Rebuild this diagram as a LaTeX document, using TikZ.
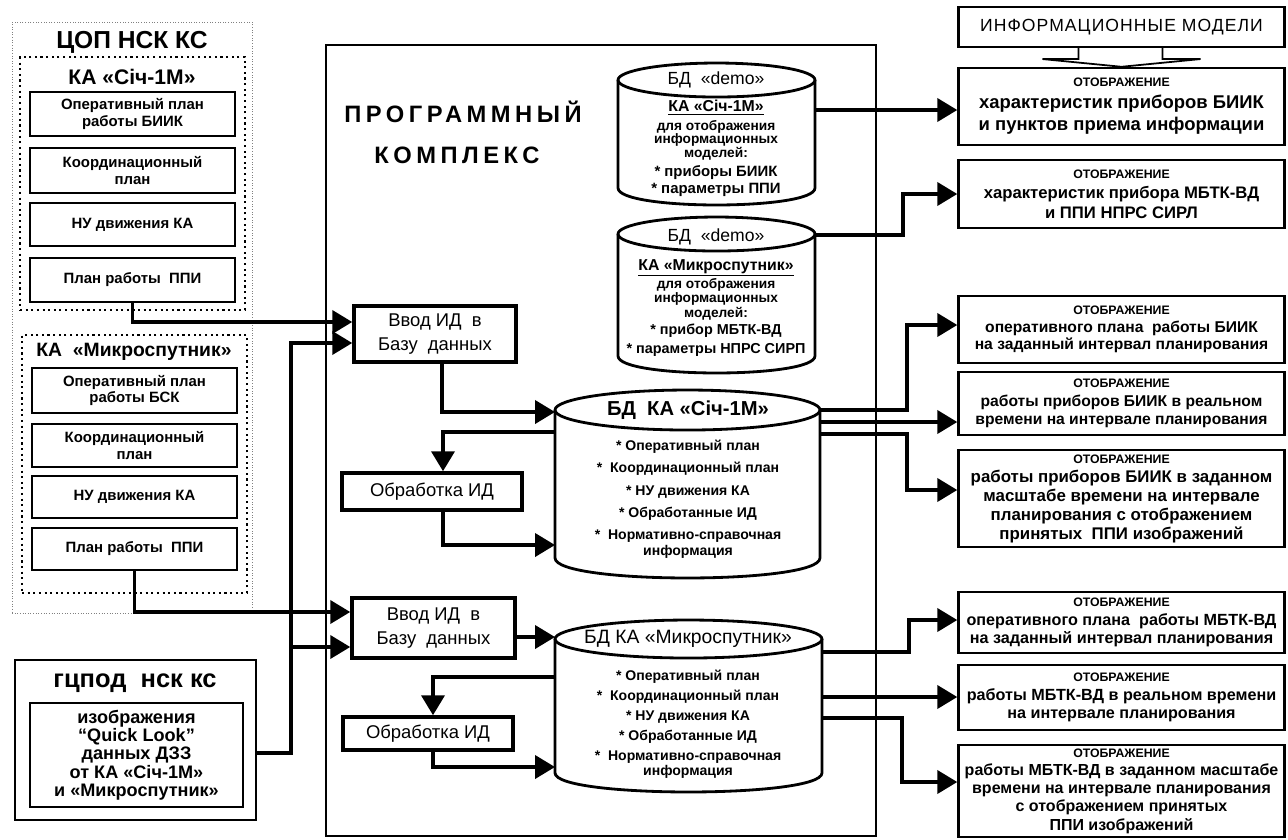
\documentclass[tikz,border=0pt]{standalone}
\usepackage{fontspec}
\setmainfont{Liberation Sans}
\usetikzlibrary{arrows.meta,calc}

\newcommand{\otb}{{\fontsize{7}{7}\selectfont ОТОБРАЖЕНИЕ}}
% cylinder outline round a named node: #1 node, #2 half width, #3 cap radius (px)
\newcommand{\drawdb}[3]{%
  \draw[dbline] ($(#1.north)+(0,#3)$) ellipse ({#2} and {#3});
  \draw[dbline] ($(#1.north west)+(0,#3)$) -- ($(#1.south west)+(0,-#3)$)
    .. controls +(0,{4/3*#3}) and +(0,{4/3*#3}) .. ($(#1.south east)+(0,-#3)$)
    -- ($(#1.north east)+(0,#3)$);
}

\tikzset{
  planbox/.style={draw, line width=1.5pt, minimum width=4.1cm, align=center, inner sep=1pt,
    font=\bfseries\fontsize{8.5}{9.5}\selectfont},
  groupbox/.style={draw, dotted, line width=1.2pt},
  procbox/.style={draw, line width=2pt, align=center, inner sep=1pt,
    font=\fontsize{10.5}{14}\selectfont},
  viewbox/.style={draw, line width=1.4pt, minimum width=6.52cm, align=center, inner sep=1pt,
    font=\bfseries\fontsize{9.2}{10.6}\selectfont},
  dbase/.style={rectangle, inner sep=0pt, outer sep=0pt},
  dbline/.style={line width=1.6pt},
  dbtext/.style={align=center, inner sep=0pt},
  conn/.style={line width=2.2pt},
  arr/.style={conn, -{Triangle[length=0.4cm,width=0.46cm]}},
}

\begin{document}
\begin{tikzpicture}[x=0.02cm,y=-0.02cm]
\useasboundingbox (0,0) rectangle (1288,839);

% source: ЦОП НСК КС
\node[draw, densely dotted, line width=0.5pt, gray, minimum width=4.8cm, minimum height=11.82cm] (cop) at (132,317.5) {};
\node[font=\bfseries\fontsize{14}{16}\selectfont] (copt) at (132,42) {ЦОП НСК КС};

\node[groupbox, minimum width=4.5cm, minimum height=5.06cm] (g1) at (132.5,183.5) {};
\node[font=\bfseries\fontsize{12}{14}\selectfont] (g1t) at (132,77) {КА «Січ-1М»};
\node[planbox, minimum height=0.88cm] (p1) at (132.5,114) {Оперативный план\\работы БИИК};
\node[planbox, minimum height=0.9cm] (p2) at (132.5,170.5) {Координационный\\план};
\node[planbox, minimum height=0.86cm] (p3) at (132.5,224.5) {НУ движения КА};
\node[planbox, minimum height=0.88cm] (p4) at (132.5,280) {План работы\ \ ППИ};

\node[groupbox, minimum width=4.5cm, minimum height=5.16cm] (g2) at (134.5,464) {};
\node[font=\bfseries\fontsize{11}{13}\selectfont] (g2t) at (134,352) {КА\ \ «Микроспутник»};
\node[planbox, minimum height=0.9cm] (m1) at (134.5,390.5) {Оперативный план\\работы БСК};
\node[planbox, minimum height=0.86cm] (m2) at (134.5,445.5) {Координационный\\план};
\node[planbox, minimum height=0.84cm] (m3) at (134.5,497) {НУ движения КА};
\node[planbox, minimum height=0.84cm] (m4) at (134.5,549) {План работы\ \ ППИ};

% source: ГЦПОД
\node[draw, line width=1.2pt, minimum width=4.82cm, minimum height=3.2cm] (gc) at (135.5,740) {};
\node[font=\bfseries\fontsize{14.5}{16}\selectfont] (gct) at (135,683) {гцпод\ \ нск кс};
\node[draw, line width=1pt, minimum width=4.26cm, minimum height=2.08cm, align=center,
  font=\bfseries\fontsize{10.3}{10.4}\selectfont] (gcin) at (136.5,755)
  {изображения\\“Quick Look”\\данных ДЗЗ\\от КА «Січ-1М»\\и «Микроспутник»};

% software complex
\node[draw, line width=0.9pt, minimum width=11cm, minimum height=15.82cm] (pk) at (601,440.5) {};
\node[font=\bfseries\fontsize{13.5}{16}\selectfont\addfontfeature{LetterSpace=19}] (pkt1) at (463,112) {ПРОГРАММНЫЙ};
\node[font=\bfseries\fontsize{13.5}{16}\selectfont\addfontfeature{LetterSpace=19}] (pkt2) at (457,155) {КОМПЛЕКС};

\node[procbox, minimum width=3.24cm, minimum height=1.12cm] (vv1) at (435,334) {Ввод ИД\ \ в\\Базу\ \ данных};
\node[procbox, minimum width=3.6cm, minimum height=0.74cm] (ob1) at (432,491.5) {Обработка ИД};
\node[procbox, minimum width=3.26cm, minimum height=1.2cm] (vv2) at (433.5,628) {Ввод ИД\ \ в\\Базу\ \ данных};
\node[procbox, minimum width=3.4cm, minimum height=0.66cm] (ob2) at (428,733.5) {Обработка ИД};

% databases
\node[dbase, minimum width=3.94cm, minimum height=2.84cm] (demo1) at (716.5,134) {};
\drawdb{demo1}{98.5}{17}
\node[dbtext, font=\fontsize{10}{11}\selectfont] (d1a) at (716,80) {БД\ \ «demo»};
\node[dbtext, font=\bfseries\fontsize{9}{11}\selectfont] (d1b) at (716,108) {\underline{КА «Січ-1М»}};
\node[dbtext, font=\bfseries\fontsize{7.8}{7.6}\selectfont] (d1c) at (716,140) {для отображения\\информационных\\моделей:};
\node[dbtext, font=\bfseries\fontsize{8.5}{10}\selectfont] (d1d) at (716,181) {* приборы БИИК\\* параметры ППИ};

\node[dbase, minimum width=3.94cm, minimum height=3.12cm] (demo2) at (716.5,295) {};
\drawdb{demo2}{98.5}{17}
\node[dbtext, font=\fontsize{10}{11}\selectfont] (d2a) at (716,237) {БД\ \ «demo»};
\node[dbtext, font=\bfseries\fontsize{9}{11}\selectfont] (d2b) at (716,268) {\underline{КА «Микроспутник»}};
\node[dbtext, font=\bfseries\fontsize{7.8}{7.2}\selectfont] (d2c) at (716,299) {для отображения\\информационных\\моделей:};
\node[dbtext, font=\bfseries\fontsize{8.2}{11}\selectfont] (d2d) at (716,340) {* прибор МБТК-ВД\\* параметры НПРС СИРП};

\node[dbase, minimum width=5.3cm, minimum height=3.76cm] (sich) at (687.5,484) {};
\drawdb{sich}{132.5}{20}
\node[dbtext, font=\bfseries\fontsize{11.5}{12}\selectfont] (sicht) at (688,410) {БД\ \ КА «Січ-1М»};
\node[dbtext, font=\bfseries\fontsize{8}{12.7}\selectfont] (sichb) at (688,499)
  {* Оперативный план\\*\ \ Координационный план\\* НУ движения КА\\* Обработанные ИД\\*\ \ Нормативно-справочная\\[-4pt]информация};

\node[dbase, minimum width=5.34cm, minimum height=3.44cm] (mik) at (688.5,706) {};
\drawdb{mik}{133.5}{19}
\node[dbtext, font=\fontsize{11}{12}\selectfont] (mikt) at (688,639) {БД КА «Микроспутник»};
\node[dbtext, font=\bfseries\fontsize{8}{11.4}\selectfont] (mikb) at (688,724)
  {* Оперативный план\\*\ \ Координационный план\\* НУ движения КА\\* Обработанные ИД\\*\ \ Нормативно-справочная\\[-3pt]информация};

% information models
\node[draw, line width=1.2pt, minimum width=6.52cm, minimum height=0.8cm,
  font=\fontsize{10}{12}\selectfont\addfontfeature{LetterSpace=6}] (info) at (1121.5,27) {ИНФОРМАЦИОННЫЕ МОДЕЛИ};
\node[viewbox, minimum height=1.54cm, font=\bfseries\fontsize{10.5}{12.5}\selectfont] (r1) at (1121.5,106.5) {\otb\\характеристик приборов БИИК\\и пунктов приема информации};
\node[viewbox, minimum height=1.36cm, font=\bfseries\fontsize{9.5}{11.5}\selectfont] (r2) at (1121.5,194) {\otb\\характеристик прибора МБТК-ВД\\и ППИ НПРС СИРЛ};
\node[viewbox, minimum height=1.34cm, font=\bfseries\fontsize{8.9}{9.8}\selectfont] (r3) at (1121.5,329.5) {\otb\\оперативного плана\ \ работы БИИК\\на заданный интервал планирования};
\node[viewbox, minimum height=1.26cm, font=\bfseries\fontsize{8.9}{10.5}\selectfont] (r4) at (1121.5,403.5) {\otb\\работы приборов БИИК в реальном\\времени на интервале планирования};
\node[viewbox, minimum height=1.94cm, font=\bfseries\fontsize{9.6}{10.8}\selectfont] (r5) at (1121.5,498.5) {\otb\\работы приборов БИИК в заданном\\масштабе времени на интервале\\планирования с отображением\\принятых\ \ ППИ изображений};
\node[viewbox, minimum height=1.22cm] (r6) at (1121.5,622.5) {\otb\\оперативного плана\ \ работы МБТК-ВД\\на заданный интервал планирования};
\node[viewbox, minimum height=1.3cm] (r7) at (1121.5,697.5) {\otb\\работы МБТК-ВД в реальном времени\\на интервале планирования};
\node[viewbox, minimum height=1.84cm, font=\bfseries\fontsize{9.1}{10.4}\selectfont] (r8) at (1121.5,791) {\otb\\работы МБТК-ВД в заданном масштабе\\времени на интервале планирования\\с отображением принятых\\ППИ изображений};

\draw[line width=1pt] ($(info.south)+(-43,0)$) -- ++(0,11) -- ++(-36,0) -- (r1.north)
  -- ($(info.south)+(79,11)$) -- ++(-38,0) -- ++(0,-11);

% inputs
\draw[arr] (p4.south) |- ($(vv1.west)+(0,-12)$);
\draw[arr] ($(gc.east)+(0,13)$) -| ($(vv1.west)+(-61,9)$) -- ($(vv1.west)+(0,9)$);
\draw[arr] ($(vv2.west)+(-59,19)$) -- ($(vv2.west)+(0,19)$);
\draw[arr] (m4.south) |- ($(vv2.west)+(0,-16)$);

% Січ-1М
\draw[arr] ($(vv1.south)+(7,0)$) |- ($(sich.west)+(0,-72)$);
\draw[arr] ($(sich.west)+(0,-52)$) -| ($(ob1.north)+(11,0)$);
\draw[arr] ($(ob1.south)+(11,0)$) |- ($(sich.west)+(0,61)$);

% Микроспутник
\draw[arr] ($(vv2.east)+(0,9)$) -- ($(mik.west)+(0,-69)$);
\draw[arr] ($(mik.west)+(0,-29)$) -| ($(ob2.north)+(5,0)$);
\draw[arr] ($(ob2.south)+(5,0)$) |- ($(mik.west)+(0,61)$);

% outputs
\draw[arr] ($(demo1.east)+(0,-24)$) -- ($(r1.west)+(0,3.5)$);
\draw[arr] ($(demo2.east)+(0,-60)$) -| ($(r2.west)+(-54,0)$) -- (r2.west);
\draw[arr] ($(sich.east)+(0,-74)$) -| ($(r3.west)+(-50,-4.5)$) -- ($(r3.west)+(0,-4.5)$);
\draw[arr] ($(sich.east)+(0,-62)$) -- ($(r4.west)+(0,18.5)$);
\draw[arr] ($(sich.east)+(0,-50)$) -| ($(r5.west)+(-50,-8.5)$) -- ($(r5.west)+(0,-8.5)$);
\draw[arr] ($(mik.east)+(0,-54)$) -| ($(r6.west)+(-48,-2.5)$) -- ($(r6.west)+(0,-2.5)$);
\draw[arr] ($(mik.east)+(0,-9)$) -- ($(r7.west)+(0,-0.5)$);
\draw[arr] ($(mik.east)+(0,12)$) -| ($(r8.west)+(-55,-9)$) -- ($(r8.west)+(0,-9)$);
\end{tikzpicture}
\end{document}
